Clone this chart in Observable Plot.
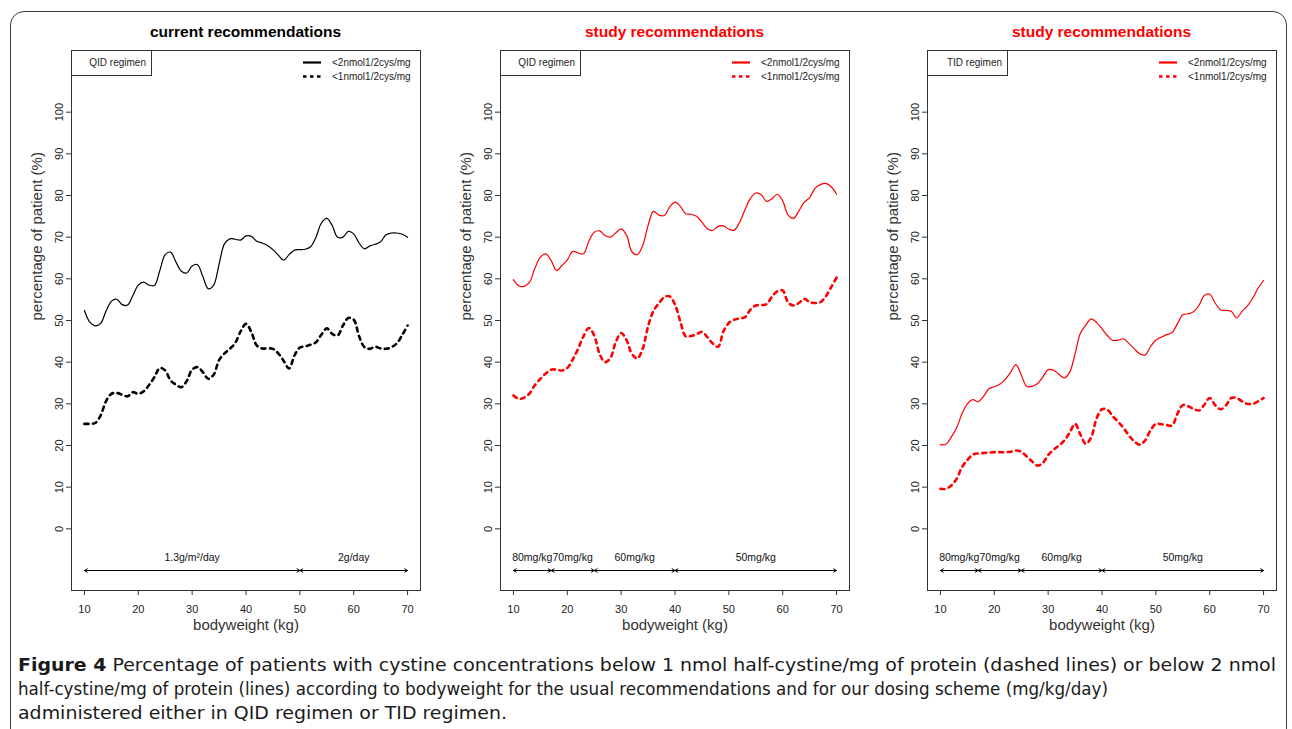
<!DOCTYPE html>
<html>
<head>
<meta charset="utf-8">
<script src="https://cdn.jsdelivr.net/npm/d3@7"></script>
<script src="https://cdn.jsdelivr.net/npm/@observablehq/plot@0.6"></script>
<style>
  html, body { margin:0; padding:0; background:#fff; }
  body { width:1292px; height:729px; overflow:hidden; position:relative; font-family:"Liberation Sans", Arial, sans-serif; color:#222; }
  #border { position:absolute; left:10px; top:11px; width:1277px; height:760px; border:1.5px solid #3a3a3a; border-radius:14px; box-sizing:border-box; }
  .plotwrap { position:absolute; top:45px; }
  .ptitle { position:absolute; top:22px; width:349px; text-align:center; font-weight:bold; font-size:15.5px; line-height:20px; }
  .regbox { position:absolute; top:50px; width:81px; height:26px; border:1px solid #333; box-sizing:border-box; font-size:10px; line-height:24px; text-align:right; padding-right:5px; background:#fff; }
  .legend { position:absolute; top:56px; font-size:10px; }
  .legend .row { height:13.5px; display:flex; align-items:center; }
  .legend svg { display:block; }
  .legend span { margin-left:10px; line-height:13.5px; }
  #caption { position:absolute; left:0; top:648px; }
</style>
</head>
<body>
<div id="border"></div>
<div id="root"></div>
<svg id="caption" width="1292" height="81"></svg>
<script>
// ---------------- data ----------------
const weights = [10,11,12,13,14,15,16,17,18,19,20,21,22,23,24,25,26,27,28,29,30,31,32,33,34,35,36,37,38,39,40,41,42,43,44,45,46,47,48,49,50,51,52,53,54,55,56,57,58,59,60,61,62,63,64,65,66,67,68,69,70];

const currentQidBelow2 = [52.4,49.6,48.7,49.3,52.2,54.6,55.1,53.8,53.7,56.0,
  58.5,59.2,58.5,58.4,62.0,65.8,66.4,64.0,61.8,61.4,
  63.1,63.4,60.5,57.6,58.5,63.5,68.4,69.6,69.5,69.3,
  70.3,70.2,69.0,68.6,68.0,67.0,65.7,64.5,65.8,66.9,
  67.0,67.1,67.7,70.0,73.4,74.5,72.8,70.0,70.0,71.4,
  70.8,68.6,67.2,67.9,68.3,68.9,70.6,71.0,71.0,70.7,
  70.0];
const currentQidBelow1 = [25.2,25.2,25.4,27.2,30.6,32.4,32.6,32.2,31.8,32.8,
  32.4,33.0,34.5,36.4,38.6,38.0,35.6,34.6,34.0,35.5,
  38.2,38.8,37.6,36.0,37.0,40.5,42.1,43.2,44.6,47.4,
  49.2,47.2,44.0,43.3,43.3,43.2,42.1,40.3,38.5,41.6,
  43.5,43.8,44.2,44.8,46.6,48.1,46.8,46.4,48.8,50.6,
  50.2,46.2,43.6,43.2,43.7,43.3,43.2,43.6,44.5,46.5,
  48.8];
const studyQidBelow2 = [59.8,58.3,58.2,59.2,62.6,65.2,66.0,64.4,62.0,63.2,
  64.5,66.6,66.2,66.0,69.0,71.2,71.5,70.4,70.0,71.0,
  72.0,70.5,66.5,65.8,68.0,72.8,76.2,75.3,75.2,77.2,
  78.4,77.4,75.6,75.5,75.0,73.6,72.0,71.6,72.6,72.7,
  71.9,71.7,73.6,76.6,79.3,80.6,80.2,78.6,79.2,80.3,
  78.7,75.3,74.5,76.3,78.4,79.5,81.7,82.6,82.9,82.1,
  80.3];
const studyQidBelow1 = [32.0,31.2,31.5,32.5,34.5,36.0,37.3,38.2,38.2,38.0,
  38.6,40.6,43.2,46.2,48.2,46.4,42.0,40.0,41.0,44.8,
  47.0,45.3,42.0,40.9,43.2,48.6,52.3,54.1,55.6,55.8,
  53.8,49.7,46.2,46.3,46.7,47.3,46.0,44.5,43.7,47.4,
  49.4,50.2,50.5,50.8,52.6,53.6,53.7,53.9,55.7,57.0,
  57.2,54.3,53.6,54.2,55.2,54.4,54.2,54.4,55.8,58.0,
  60.3];
const studyTidBelow2 = [20.2,20.3,22.0,24.2,27.6,30.0,31.0,30.5,31.8,33.6,
  34.1,34.7,35.8,37.5,39.4,37.0,34.2,34.2,34.8,36.4,
  38.2,38.1,37.1,36.2,37.6,42.0,47.0,48.9,50.4,49.5,
  48.0,46.4,45.2,45.3,45.6,44.5,43.2,42.0,41.7,43.7,
  45.3,46.0,46.6,47.1,49.2,51.4,51.6,52.1,53.6,56.0,
  56.3,54.2,52.6,52.4,52.2,50.6,52.2,53.5,55.4,57.8,
  59.6];
const studyTidBelow1 = [9.6,9.6,10.4,12.0,14.8,16.5,17.8,18.1,18.2,18.3,
  18.4,18.4,18.4,18.5,18.8,18.5,17.4,16.2,15.2,15.8,
  17.7,19.0,20.0,21.2,23.1,25.2,22.6,20.4,22.0,26.5,
  28.7,28.6,27.0,25.7,24.2,22.4,21.0,20.2,21.2,23.6,
  25.2,25.1,24.9,24.8,27.6,29.7,29.4,28.8,28.4,29.8,
  31.4,29.7,28.7,29.6,31.4,31.4,30.6,30.0,30.0,30.6,
  31.4];

const xTicks = [10,20,30,40,50,60,70];
const yTicks = [0,10,20,30,40,50,60,70,80,90,100];

const currentDoseBreaks = [10,50,70];
const currentDoseLabels = ["1.3g/m²/day","2g/day"];
const studyDoseBreaks = [10,17,25,40,70];
const studyDoseLabels = ["80mg/kg","70mg/kg","60mg/kg","50mg/kg"];
const doseArrowLevel = -10;
const doseLabelLevel = -7;

const panelTitles = ["current recommendations","study recommendations","study recommendations"];
const panelRegimens = ["QID regimen","QID regimen","TID regimen"];
const panelColors = ["#000000","#ff0000","#ff0000"];
const legendLabels = ["<2nmol1/2cys/mg","<1nmol1/2cys/mg"];
const xLabel = "bodyweight (kg)";
const yLabel = "percentage of patient (%)";

const captionBold = "Figure 4";
const captionLines = [
  " Percentage of patients with cystine concentrations below 1 nmol half-cystine/mg of protein (dashed lines) or below 2 nmol",
  "half-cystine/mg of protein (lines) according to bodyweight for the usual recommendations and for our dosing scheme (mg/kg/day)",
  "administered either in QID regimen or TID regimen."
];

// ---------------- layout ----------------
const frameLefts = [71, 500, 927];
const frameW = 349;
const mLeft = 55, mRight = 6, mTop = 5, mBottom = 55;
const frameH = 540;

const panels = [
  {below2: currentQidBelow2, below1: currentQidBelow1, breaks: currentDoseBreaks, labels: currentDoseLabels},
  {below2: studyQidBelow2, below1: studyQidBelow1, breaks: studyDoseBreaks, labels: studyDoseLabels},
  {below2: studyTidBelow2, below1: studyTidBelow1, breaks: studyDoseBreaks, labels: studyDoseLabels}
];

const root = document.getElementById("root");
const SOLID_W = 1.2, DASH_W = 2.6, DASH = "4,4.5";

panels.forEach((p, i) => {
  const L = frameLefts[i];
  const color = panelColors[i];
  const rows2 = weights.map((w, j) => ({w, v: p.below2[j]}));
  const rows1 = weights.map((w, j) => ({w, v: p.below1[j]}));
  const segs = p.breaks.slice(0, -1).map((a, j) => ({a, b: p.breaks[j + 1], label: p.labels[j], mid: (a + p.breaks[j + 1]) / 2}));
  const arrows = segs.flatMap(s => [{x1: s.a, x2: s.b}, {x1: s.b, x2: s.a}]);

  const chart = Plot.plot({
    width: mLeft + frameW + mRight,
    height: mTop + frameH + mBottom,
    marginLeft: mLeft, marginRight: mRight, marginTop: mTop, marginBottom: mBottom,
    x: {domain: [7.6, 72.4]},
    y: {domain: [-14.8, 114.8]},
    style: {fontFamily: "'Liberation Sans', Arial, sans-serif", fontSize: "11px", color: "#222", background: "transparent", overflow: "visible"},
    marks: [
      Plot.frame({stroke: "#333", strokeWidth: 1}),
      Plot.axisY({ticks: yTicks, tickRotate: -90, tickSize: 5, label: null, stroke: "#333"}),
      Plot.axisX({ticks: xTicks, tickSize: 5, tickPadding: 10, label: null, stroke: "#333"}),
      Plot.line(rows2, {x: "w", y: "v", stroke: color, strokeWidth: SOLID_W, curve: "catmull-rom"}),
      Plot.line(rows1, {x: "w", y: "v", stroke: color, strokeWidth: DASH_W, strokeDasharray: DASH, curve: "catmull-rom"}),
      Plot.arrow(arrows, {x1: "x1", x2: "x2", y1: () => doseArrowLevel, y2: () => doseArrowLevel, stroke: "#000", strokeWidth: 1, headLength: 5}),
      Plot.text(segs, {x: "mid", y: () => doseLabelLevel, text: "label", fontSize: 10.5, fill: "#111"}),
      Plot.text([xLabel], {text: d => d, frameAnchor: "bottom", dy: 39, fontSize: 15, fill: "#333"}),
      Plot.text([yLabel], {text: d => d, frameAnchor: "left", dx: -34, rotate: -90, fontSize: 15, fill: "#333"})
    ]
  });
  const wrap = document.createElement("div");
  wrap.className = "plotwrap";
  wrap.style.left = (L - mLeft) + "px";
  wrap.appendChild(chart);
  root.appendChild(wrap);

  const t = document.createElement("div");
  t.className = "ptitle";
  t.style.left = L + "px";
  t.style.color = color;
  t.textContent = panelTitles[i];
  root.appendChild(t);

  const r = document.createElement("div");
  r.className = "regbox";
  r.style.left = L + "px";
  r.textContent = panelRegimens[i];
  root.appendChild(r);

  const lg = document.createElement("div");
  lg.className = "legend";
  lg.style.left = (L + 231) + "px";
  legendLabels.forEach((lab, k) => {
    const row = document.createElement("div");
    row.className = "row";
    const dash = k === 1 ? ` stroke-dasharray="3.5,3.5"` : "";
    row.innerHTML = `<svg width="20" height="13"><line x1="1" x2="19" y1="6.5" y2="6.5" stroke="${color}" stroke-width="${k === 1 ? 2.6 : 2.2}"${dash}/></svg><span></span>`;
    row.querySelector("span").textContent = lab;
    lg.appendChild(row);
  });
  root.appendChild(lg);
});

// ---------------- caption ----------------
const cap = d3.select("#caption");
const capFont = "'Liberation Sans Narrow','DejaVu Sans Condensed','Liberation Sans',sans-serif";
const capBaselines = [23, 47, 71];
const capLengths = [1258, 1090, 489];
captionLines.forEach((line, k) => {
  const t = cap.append("text")
    .attr("x", 18).attr("y", capBaselines[k])
    .attr("font-family", capFont).attr("font-size", 18).attr("fill", "#1a1a1a")
    .attr("textLength", capLengths[k]).attr("lengthAdjust", "spacingAndGlyphs");
  if (k === 0) t.append("tspan").attr("font-weight", "bold").text(captionBold);
  t.append("tspan").text(line);
});
</script>
</body>
</html>
